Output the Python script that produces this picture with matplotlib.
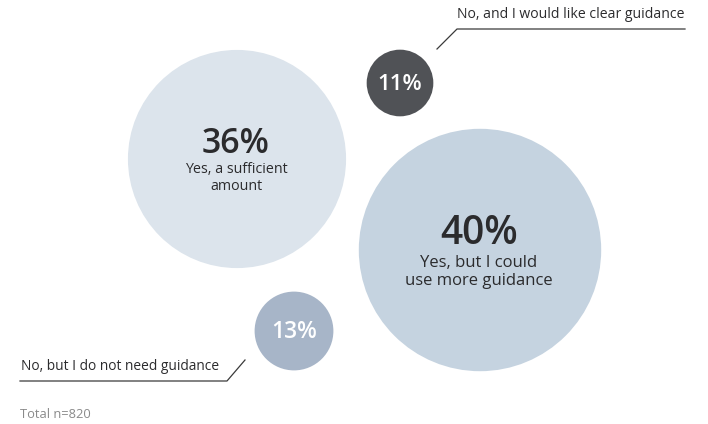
"""Bubble chart: share of respondents by answer, total n=820."""
import matplotlib
matplotlib.use("Agg")
import matplotlib.pyplot as plt
from matplotlib.patches import Circle

plt.rcParams["font.family"] = ["Open Sans", "DejaVu Sans"]

# survey answers
VALUES = [36, 40, 11, 13]
LABELS = ["Yes, a sufficient\namount",
          "Yes, but I could\nuse more guidance",
          "No, and I would like clear guidance",
          "No, but I do not need guidance"]
TOTAL_N = 820

# layout (pixel space, y down)
CENTERS = [(237, 159), (480, 250), (400, 83), (294, 331)]
FILLS = ["#dce4ec", "#c5d3e0", "#505256", "#a7b5c8"]
PX_PER_POINT = 3.03  # bubble radius per percentage point
DARK = "#2b2b2d"

fig = plt.figure(figsize=(7.08, 4.24), dpi=100)
ax = fig.add_axes([0, 0, 1, 1])
ax.set_xlim(0, 708)
ax.set_ylim(424, 0)
ax.set_aspect("equal")
ax.axis("off")

for (cx, cy), v, c in zip(CENTERS, VALUES, FILLS):
    ax.add_patch(Circle((cx, cy), v * PX_PER_POINT, color=c, lw=0))

# large bubbles: value + label inside
ax.text(236, 144, f"{VALUES[0]}%", ha="center", va="center",
        fontsize=24.5, fontweight="semibold", color=DARK)
ax.text(236, 178, LABELS[0], ha="center", va="center", fontsize=10.3,
        color=DARK, linespacing=1.1)
ax.text(479, 234, f"{VALUES[1]}%", ha="center", va="center",
        fontsize=28, fontweight="semibold", color=DARK)
ax.text(479, 272, LABELS[1], ha="center", va="center", fontsize=12,
        color=DARK, linespacing=1.1)

# small bubbles: value inside, label on a leader line
ax.text(400, 84, f"{VALUES[2]}%", ha="center", va="center",
        fontsize=16, fontweight="semibold", color="white")
ax.text(294, 332, f"{VALUES[3]}%", ha="center", va="center",
        fontsize=16.5, fontweight="semibold", color="white")

ax.plot([437, 457, 685], [49, 29, 29], color="#3a3a3a", lw=0.9)
ax.text(457, 15, LABELS[2], ha="left", va="center", fontsize=10.1, color=DARK)
ax.plot([245, 227, 20], [360, 381, 381], color="#3a3a3a", lw=0.9)
ax.text(21, 366, LABELS[3], ha="left", va="center", fontsize=9.9, color=DARK)

ax.text(20, 415, f"Total n={TOTAL_N}", ha="left", va="center",
        fontsize=9.3, color="#8a8a8a")

fig.savefig("out.png", dpi=100)
